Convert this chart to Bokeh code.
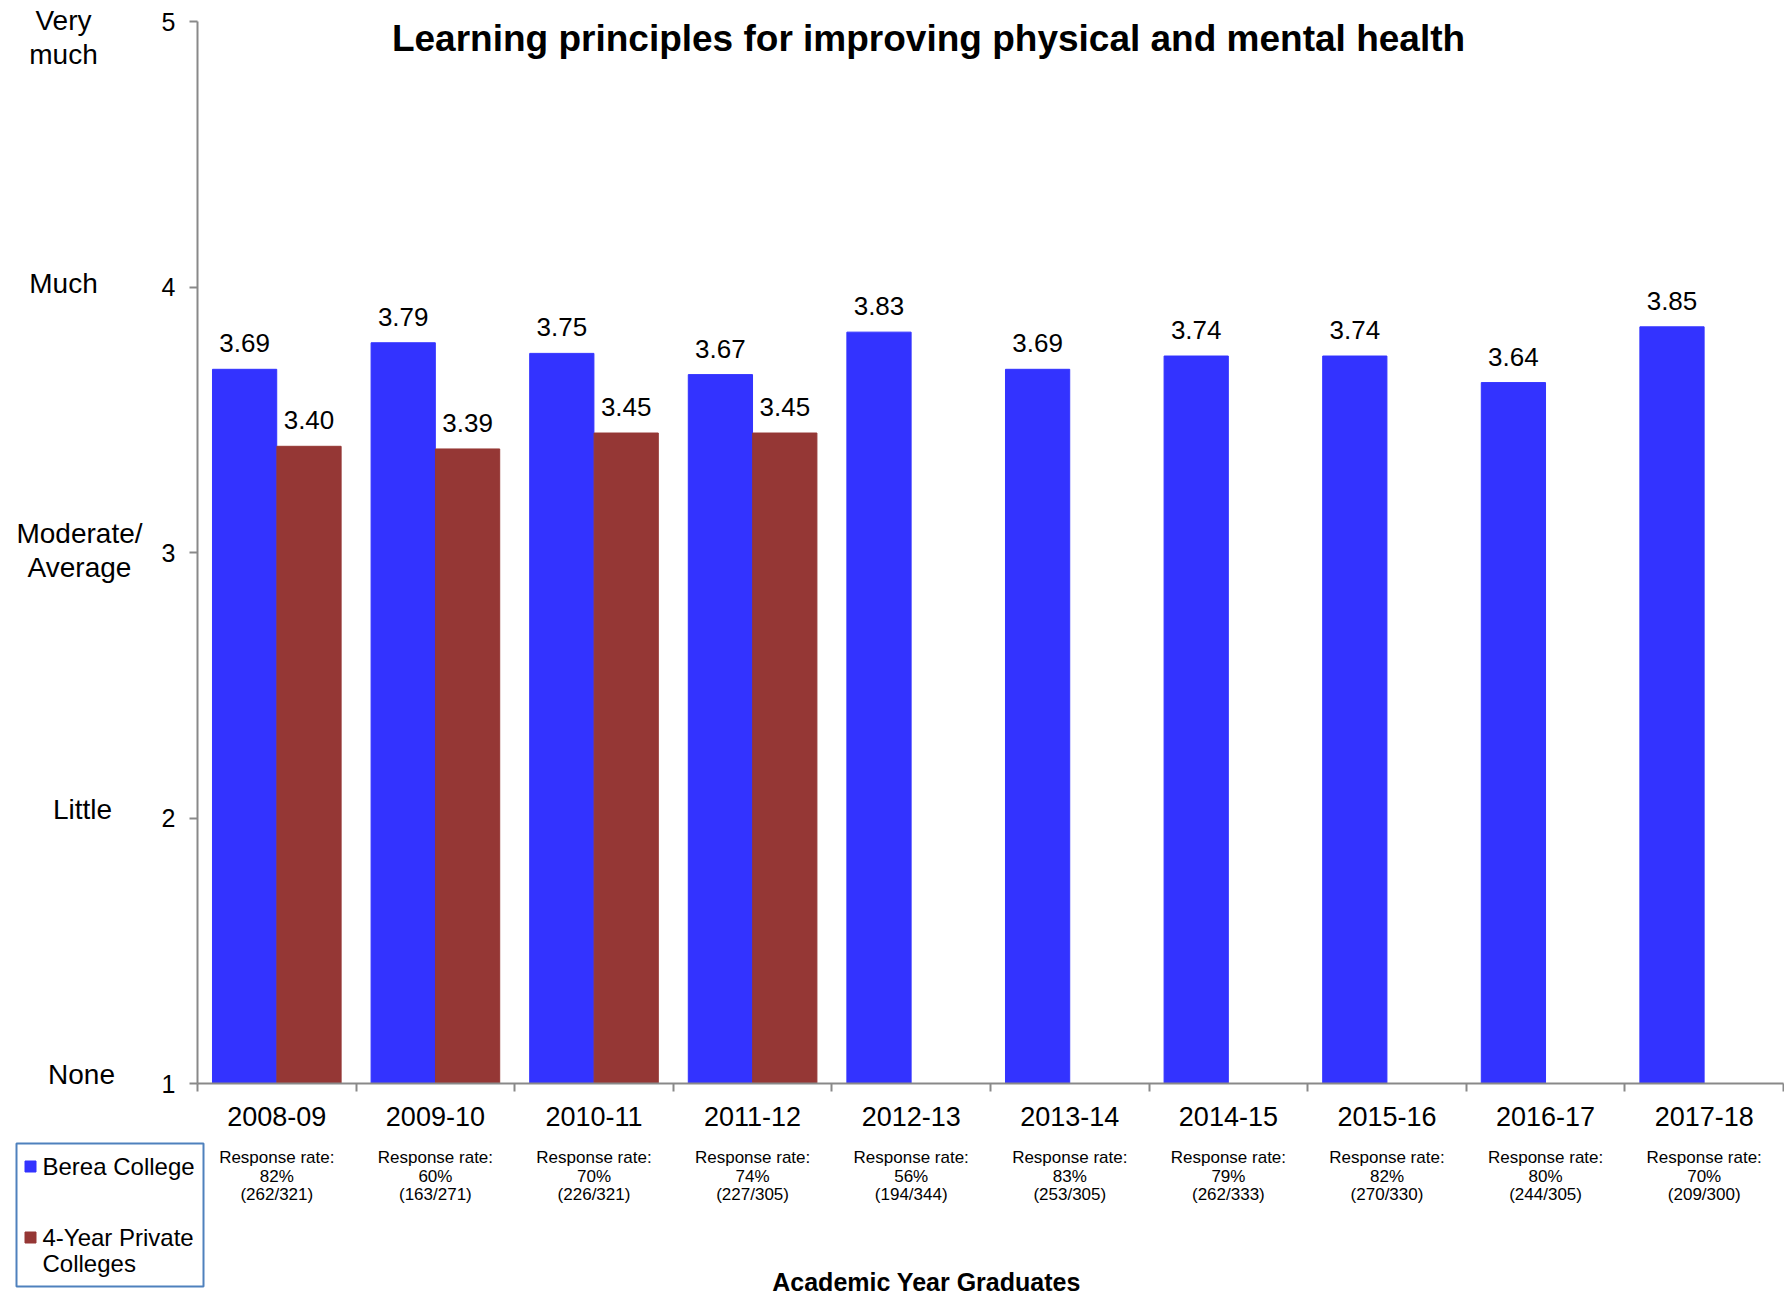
from bokeh.plotting import figure
from bokeh.models import (Range1d, LinearAxis, FixedTicker, LabelSet, Label,
                          ColumnDataSource)
from bokeh.core.properties import value
from bokeh.embed import file_html
from bokeh.resources import INLINE

# ---------------- data ----------------
years = ["2008-09", "2009-10", "2010-11", "2011-12", "2012-13",
         "2013-14", "2014-15", "2015-16", "2016-17", "2017-18"]
berea = [3.69, 3.79, 3.75, 3.67, 3.83, 3.69, 3.74, 3.74, 3.64, 3.85]
private = [3.40, 3.39, 3.45, 3.45]
resp_pct = ["82%", "60%", "70%", "74%", "56%", "83%", "79%", "82%", "80%", "70%"]
resp_n = ["(262/321)", "(163/271)", "(226/321)", "(227/305)", "(194/344)",
          "(253/305)", "(262/333)", "(270/330)", "(244/305)", "(209/300)"]
levels = [5, 4, 3, 2, 1]
level_names = ["Very\nmuch", "Much", "Moderate/\nAverage", "Little", "None"]
series_names = ["Berea College", "4-Year Private\nColleges"]
title_text = "Learning principles for improving physical and mental health"
x_title = "Academic Year Graduates"

# ---------------- style / layout ----------------
FONT = "Liberation Sans"
BLUE = "#3333FF"
MAROON = "#953735"
AXIS = "#898989"
W, H = 1784, 1297
X0_PX, CAT_PX = 197.0, 158.6          # plot-area left edge, width of one category
Y1_PX, UNIT_PX = 1083.0, 265.5        # pixel row of value 1, pixels per unit
BW = 0.405
DODGE = 0.203


def px_x(px):
    return (px - X0_PX) / CAT_PX


def px_y(py):
    return 1 + (Y1_PX - py) / UNIT_PX


p = figure(width=W, height=H, output_backend="svg", toolbar_location=None,
           x_range=Range1d(px_x(0), px_x(W)), y_range=Range1d(px_y(H), px_y(0)),
           x_axis_type=None, y_axis_type=None, min_border=0)
p.outline_line_color = None
p.background_fill_color = "white"
p.border_fill_color = "white"

idx = list(range(len(years)))
centers = [i + 0.5 for i in idx]

src_b = ColumnDataSource(dict(x=[c - DODGE for c in centers], top=berea,
                              label=[f"{v:.2f}" for v in berea]))
src_p = ColumnDataSource(dict(x=[centers[i] + DODGE for i in range(len(private))],
                              top=private, label=[f"{v:.2f}" for v in private]))

rb = p.vbar(x="x", top="top", bottom=1, width=BW, source=src_b,
            fill_color=BLUE, line_color=BLUE)
rp = p.vbar(x="x", top="top", bottom=1, width=BW, source=src_p,
            fill_color=MAROON, line_color=MAROON)

for src in (src_b, src_p):
    p.add_layout(LabelSet(x="x", y="top", text="label", source=src,
                          text_align="center", text_baseline="alphabetic",
                          y_offset=17, text_font=value(FONT),
                          text_font_size="26px", text_color="black"))

# y axis (placed at x = 0)
yax = LinearAxis(ticker=FixedTicker(ticks=levels), fixed_location=0, bounds=(1, 5),
                 major_tick_out=8, major_tick_in=0,
                 minor_tick_out=0, minor_tick_in=0,
                 axis_line_color=AXIS, axis_line_width=2,
                 major_tick_line_color=AXIS, major_tick_line_width=2,
                 major_label_standoff=14,
                 major_label_text_font=FONT, major_label_text_font_size="25px",
                 major_label_text_color="black")
p.add_layout(yax, "left")

# x axis (placed at y = 1)
xax = LinearAxis(ticker=FixedTicker(ticks=centers, minor_ticks=list(range(len(years) + 1))),
                 fixed_location=1, bounds=(0, len(years)),
                 major_tick_out=0, major_tick_in=0,
                 minor_tick_out=8, minor_tick_in=0,
                 axis_line_color=AXIS, axis_line_width=2,
                 minor_tick_line_color=AXIS, minor_tick_line_width=2,
                 major_label_overrides={c: y for c, y in zip(centers, years)},
                 major_label_standoff=15,
                 major_label_text_font=FONT, major_label_text_font_size="27px",
                 major_label_text_color="black")
p.add_layout(xax, "below")

# y level names (each line centred on its own)
name_x_px = [63, 63, 79, 82, 81]
line_dy = {1: [0], 2: [17, -17]}
centre_dy = [-16, 4, 2, 9, 9]
lv_x, lv_y, lv_t, lv_dy = [], [], [], []
for lvl, name, xp, cdy in zip(levels, level_names, name_x_px, centre_dy):
    lines = name.split("\n")
    for ln, d in zip(lines, line_dy[len(lines)]):
        lv_x.append(px_x(xp))
        lv_y.append(lvl)
        lv_t.append(ln)
        lv_dy.append(cdy + d)
src_lv = ColumnDataSource(dict(x=lv_x, y=lv_y, text=lv_t, dy=lv_dy))
p.add_layout(LabelSet(x="x", y="y", text="text", source=src_lv, y_offset="dy",
                      text_align="center", text_baseline="middle",
                      text_font=value(FONT), text_font_size="28px",
                      text_color="black"))

# response rates
src_r = ColumnDataSource(dict(x=centers, y=[1] * len(years),
                              l1=["Response rate:"] * len(years),
                              l2=resp_pct, l3=resp_n))
for col, off in (("l1", -74), ("l2", -93), ("l3", -111)):
    p.add_layout(LabelSet(x="x", y="y", text=col, source=src_r, y_offset=off,
                          text_align="center", text_baseline="middle",
                          text_font=value(FONT), text_font_size="17px",
                          text_color="black"))

# title & axis title
p.add_layout(Label(x=px_x(928), y=5, y_offset=-17, text=title_text,
                   text_align="center", text_baseline="middle",
                   text_font=FONT, text_font_style="bold", text_font_size="37px",
                   text_color="black"))
p.add_layout(Label(x=px_x(926), y=1, y_offset=-198, text=x_title,
                   text_align="center", text_baseline="alphabetic",
                   text_font=FONT, text_font_style="bold", text_font_size="25px",
                   text_color="black"))

# legend (box, swatches and labels)
p.quad(left=[px_x(16)], right=[px_x(203)], top=[px_y(1143)], bottom=[px_y(1286)],
       fill_color="white", line_color="#4F81BD", line_width=2)
sw_y_px = [1166, 1237]
p.scatter(x=[px_x(30)] * 2, y=[px_y(v) for v in sw_y_px], marker="square",
          size=11, fill_color=[BLUE, MAROON], line_color=[BLUE, MAROON])
lg_x, lg_y, lg_t = [], [], []
for name, yp in zip(series_names, sw_y_px):
    for k, ln in enumerate(name.split("\n")):
        lg_x.append(px_x(42))
        lg_y.append(px_y(yp + 26 * k))
        lg_t.append(ln)
p.add_layout(LabelSet(x="x", y="y", text="text",
                      source=ColumnDataSource(dict(x=lg_x, y=lg_y, text=lg_t)),
                      text_align="left", text_baseline="middle",
                      text_font=value(FONT), text_font_size="24px",
                      text_color="black"))

open("out.html", "w").write(file_html(p, INLINE))
